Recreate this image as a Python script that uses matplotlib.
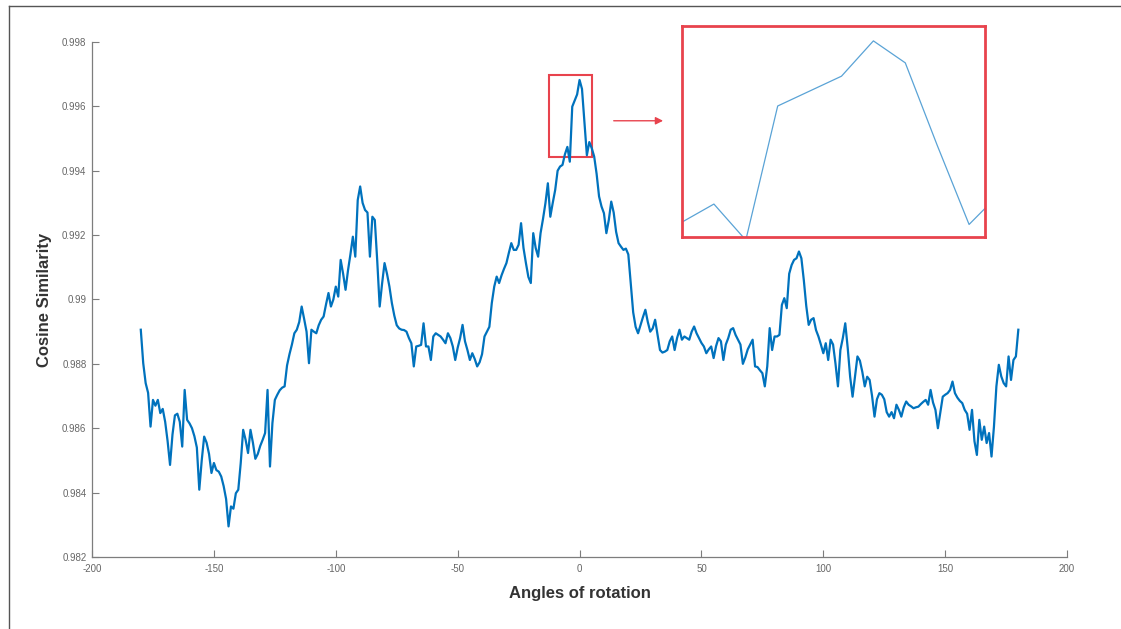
import numpy as np
import matplotlib
matplotlib.use("Agg")
import matplotlib.pyplot as plt
from matplotlib.patches import Rectangle
from matplotlib.lines import Line2D

# rotation angles in degrees, one sample per degree
angles = np.arange(-180, 181)

# cosine similarity, in blocks of 60 degrees
sim_m180 = [0.98906, 0.98802, 0.98740, 0.98710, 0.98605, 0.98688, 0.98670, 0.98688, 0.98647, 0.98660,
            0.98620, 0.98560, 0.98486, 0.98580, 0.98640, 0.98645, 0.98620, 0.98543, 0.98719, 0.98626,
            0.98615, 0.98600, 0.98575, 0.98540, 0.98409, 0.98500, 0.98574, 0.98555, 0.98520, 0.98461,
            0.98492, 0.98470, 0.98465, 0.98450, 0.98420, 0.98380, 0.98295, 0.98357, 0.98350, 0.98398,
            0.98409, 0.98492, 0.98595, 0.98564, 0.98523, 0.98595, 0.98555, 0.98505, 0.98520, 0.98545,
            0.98564, 0.98585, 0.98719, 0.98481, 0.98616, 0.98688, 0.98704, 0.98718, 0.98726, 0.98730]
sim_m120 = [0.98795, 0.98830, 0.98860, 0.98895, 0.98906, 0.98930, 0.98978, 0.98940, 0.98900, 0.98802,
            0.98906, 0.98900, 0.98895, 0.98920, 0.98937, 0.98947, 0.98985, 0.99020, 0.98978, 0.99000,
            0.99040, 0.99009, 0.99123, 0.99080, 0.99030, 0.99090, 0.99140, 0.99195, 0.99133, 0.99309,
            0.99351, 0.99300, 0.99278, 0.99270, 0.99133, 0.99257, 0.99247, 0.99120, 0.98978, 0.99050,
            0.99113, 0.99080, 0.99040, 0.98989, 0.98950, 0.98920, 0.98910, 0.98906, 0.98905, 0.98900,
            0.98880, 0.98864, 0.98792, 0.98854, 0.98856, 0.98859, 0.98926, 0.98854, 0.98854, 0.98812]
sim_m60 = [0.98885, 0.98895, 0.98890, 0.98885, 0.98875, 0.98864, 0.98895, 0.98880, 0.98854, 0.98812,
           0.98850, 0.98880, 0.98921, 0.98870, 0.98843, 0.98812, 0.98833, 0.98815, 0.98792, 0.98805,
           0.98830, 0.98885, 0.98900, 0.98915, 0.98989, 0.99040, 0.99071, 0.99051, 0.99075, 0.99095,
           0.99113, 0.99145, 0.99175, 0.99154, 0.99154, 0.99170, 0.99237, 0.99160, 0.99113, 0.99070,
           0.99051, 0.99206, 0.99160, 0.99133, 0.99206, 0.99250, 0.99299, 0.99361, 0.99257, 0.99300,
           0.99340, 0.99400, 0.99413, 0.99418, 0.99451, 0.99474, 0.99428, 0.99599, 0.99618, 0.99637]
sim_p0 = [0.99682, 0.99654, 0.99549, 0.99448, 0.99489, 0.99470, 0.99444, 0.99390, 0.99320, 0.99289,
          0.99268, 0.99206, 0.99247, 0.99304, 0.99270, 0.99210, 0.99175, 0.99164, 0.99154, 0.99158,
          0.99140, 0.99050, 0.98960, 0.98915, 0.98895, 0.98920, 0.98945, 0.98968, 0.98930, 0.98900,
          0.98910, 0.98937, 0.98890, 0.98843, 0.98835, 0.98838, 0.98843, 0.98870, 0.98885, 0.98843,
          0.98880, 0.98906, 0.98875, 0.98885, 0.98880, 0.98875, 0.98900, 0.98916, 0.98895, 0.98880,
          0.98865, 0.98854, 0.98833, 0.98845, 0.98854, 0.98818, 0.98855, 0.98880, 0.98870, 0.98812]
sim_p60 = [0.98860, 0.98880, 0.98906, 0.98911, 0.98890, 0.98875, 0.98860, 0.98800, 0.98820, 0.98845,
           0.98860, 0.98875, 0.98792, 0.98790, 0.98780, 0.98771, 0.98730, 0.98792, 0.98911, 0.98843,
           0.98885, 0.98885, 0.98890, 0.98983, 0.99004, 0.98973, 0.99080, 0.99107, 0.99123, 0.99128,
           0.99149, 0.99128, 0.99060, 0.98980, 0.98921, 0.98937, 0.98942, 0.98905, 0.98885, 0.98860,
           0.98833, 0.98864, 0.98812, 0.98875, 0.98860, 0.98800, 0.98730, 0.98843, 0.98880, 0.98926,
           0.98850, 0.98760, 0.98698, 0.98761, 0.98823, 0.98810, 0.98775, 0.98730, 0.98760, 0.98750]
sim_p120 = [0.98700, 0.98636, 0.98690, 0.98709, 0.98704, 0.98690, 0.98650, 0.98636, 0.98650, 0.98631,
            0.98673, 0.98657, 0.98636, 0.98665, 0.98683, 0.98673, 0.98668, 0.98662, 0.98665, 0.98667,
            0.98675, 0.98682, 0.98688, 0.98673, 0.98719, 0.98680, 0.98657, 0.98600, 0.98650, 0.98698,
            0.98704, 0.98709, 0.98719, 0.98745, 0.98709, 0.98695, 0.98685, 0.98678, 0.98657, 0.98645,
            0.98595, 0.98657, 0.98560, 0.98517, 0.98626, 0.98564, 0.98605, 0.98554, 0.98585, 0.98512,
            0.98605, 0.98730, 0.98797, 0.98761, 0.98740, 0.98730, 0.98823, 0.98750, 0.98812, 0.98823,
            0.98906]

similarity = np.array(sim_m180 + sim_m120 + sim_m60 + sim_p0 + sim_p60 + sim_p120)

x_ticks = [-200, -150, -100, -50, 0, 50, 100, 150, 200]
x_tick_labels = ["-200", "-150", "-100", "-50", "0", "50", "100", "150", "200"]
y_ticks = [0.982, 0.984, 0.986, 0.988, 0.990, 0.992, 0.994, 0.996, 0.998]
y_tick_labels = ["0.982", "0.984", "0.986", "0.988", "0.99", "0.992", "0.994", "0.996", "0.998"]

red = "#e8434d"      # colour of the zoom box, arrow and inset frame
blue = "#0072bd"     # matlab default line colour

plt.rcParams['font.family'] = ['Liberation Sans', 'DejaVu Sans']

fig = plt.figure(figsize=(11.21, 6.29), dpi=100)
ax = fig.add_axes([0.0821, 0.1145, 0.8698, 0.8188])

ax.plot(angles, similarity, color=blue, linewidth=1.6)     # main curve
ax.set_xlim(-200, 200)
ax.set_ylim(0.982, 0.998)
ax.set_xticks(x_ticks)
ax.set_xticklabels(x_tick_labels)
ax.set_yticks(y_ticks)
ax.set_yticklabels(y_tick_labels)

# matlab look: no box, ticks pointing inward, grey axes
ax.spines['top'].set_visible(False)
ax.spines['right'].set_visible(False)
for side in ['left', 'bottom']:
    ax.spines[side].set_color('#7d7d7d')
    ax.spines[side].set_linewidth(0.9)
ax.tick_params(direction='in', length=5, width=0.8, color='#7d7d7d',
               labelsize=7, labelcolor='#666666')
ax.tick_params(axis='x', pad=5)
ax.tick_params(axis='y', pad=4)

ax.set_xlabel("Angles of rotation", fontsize=12, fontweight='bold', color='#333333')
ax.set_ylabel("Cosine Similarity", fontsize=12, fontweight='bold', color='#333333')
ax.xaxis.set_label_coords(0.5, -0.056)
ax.yaxis.set_label_coords(-0.041, 0.5)

# red box around the peak
ax.add_patch(Rectangle((-12.7, 0.99443), 18.0, 0.00255, fill=False,
                       edgecolor=red, linewidth=1.5))

# arrow pointing to the zoomed view
ax.annotate("", xy=(0.594, 0.808), xytext=(0.545, 0.808),
            xycoords='figure fraction', textcoords='figure fraction',
            arrowprops=dict(arrowstyle='-|>', color=red, lw=1.0, mutation_scale=11))

# zoomed view of the peak
axin = fig.add_axes([0.6084, 0.6232, 0.2703, 0.3355])
axin.plot(angles, similarity, color='#5aa3d6', linewidth=0.9)
axin.set_xlim(-6.0, 3.5)
axin.set_ylim(0.99432, 0.99701)
axin.set_xticks([])
axin.set_yticks([])
for side in axin.spines:
    axin.spines[side].set_color(red)
    axin.spines[side].set_linewidth(2.0)

# screenshot frame along the top and left edges
fig.add_artist(Line2D([0.008, 1.0], [0.991, 0.991], transform=fig.transFigure,
                      color='#555555', linewidth=1.0))
fig.add_artist(Line2D([0.008, 0.008], [0.0, 0.991], transform=fig.transFigure,
                      color='#555555', linewidth=1.0))

fig.savefig("out.png", dpi=100)
